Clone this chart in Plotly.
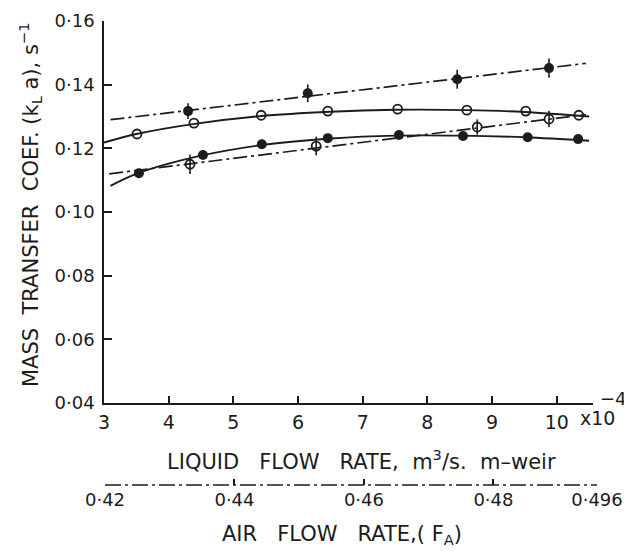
import plotly.graph_objects as go

# ---- data ----
# Series A: filled circles with error bars, dash-dot fit
liq_A = [4.30, 6.15, 8.46, 9.88]
kla_A = [0.1317, 0.1373, 0.1417, 0.1452]
err_A = [0.0025, 0.0028, 0.0030, 0.0030]
fit_A_x = [3.10, 10.45]
fit_A_y = [0.1290, 0.1467]

# Series B: open circles, solid curve
liq_B = [3.51, 4.39, 5.43, 6.46, 7.54, 8.61, 9.52, 10.34]
kla_B = [0.1245, 0.1279, 0.1304, 0.1317, 0.1323, 0.1320, 0.1317, 0.1304]
fit_B_x = [3.0, 3.5, 4.4, 5.4, 6.5, 7.5, 8.6, 9.5, 10.5]
fit_B_y = [0.1218, 0.1245, 0.1277, 0.1301, 0.1315, 0.1321, 0.1320, 0.1314, 0.1300]

# Series C: filled circles, solid curve
liq_C = [3.54, 4.53, 5.44, 6.46, 7.56, 8.55, 9.55, 10.33]
kla_C = [0.1122, 0.1179, 0.1213, 0.1232, 0.1242, 0.1239, 0.1235, 0.1229]
fit_C_x = [3.1, 3.5, 4.5, 5.5, 6.5, 7.5, 8.5, 9.5, 10.5]
fit_C_y = [0.1082, 0.1120, 0.1177, 0.1212, 0.1231, 0.1240, 0.1240, 0.1235, 0.1224]

# Series D: open circles with error bars, dash-dot fit
liq_D = [4.33, 6.28, 8.77, 9.88]
kla_D = [0.1150, 0.1207, 0.1267, 0.1292]
err_D = [0.0031, 0.0029, 0.0024, 0.0026]
fit_D_x = [3.08, 10.45]
fit_D_y = [0.1120, 0.1306]

# Axes ticks
x_ticks = [3, 4, 5, 6, 7, 8, 9, 10]
x_ticktext = ["3", "4", "5", "6", "7", "8", "9", "10"]
y_ticks = [0.04, 0.06, 0.08, 0.10, 0.12, 0.14, 0.16]
y_ticktext = ["0·04", "0·06", "0·08", "0·10", "0·12", "0·14", "0·16"]
air_ticks = [0.42, 0.44, 0.46, 0.48, 0.496]
air_ticktext = ["0·42", "0·44", "0·46", "0·48", "0·496"]

INK = "#1c1c1c"
FONT = "DejaVu Sans"
DASHDOT = "14px,4px,3px,4px"

fig = go.Figure()

# fit lines
fig.add_trace(go.Scatter(x=fit_A_x, y=fit_A_y, mode="lines",
                         line=dict(color=INK, width=1.7, dash=DASHDOT), hoverinfo="skip"))
fig.add_trace(go.Scatter(x=fit_B_x, y=fit_B_y, mode="lines",
                         line=dict(color=INK, width=1.9, shape="spline"), hoverinfo="skip"))
fig.add_trace(go.Scatter(x=fit_C_x, y=fit_C_y, mode="lines",
                         line=dict(color=INK, width=1.9, shape="spline"), hoverinfo="skip"))
fig.add_trace(go.Scatter(x=fit_D_x, y=fit_D_y, mode="lines",
                         line=dict(color=INK, width=1.7, dash=DASHDOT), hoverinfo="skip"))

# markers
fig.add_trace(go.Scatter(x=liq_A, y=kla_A, mode="markers",
                         marker=dict(symbol="circle", size=10, color=INK),
                         error_y=dict(type="data", array=err_A, color=INK, thickness=1.6, width=0)))
fig.add_trace(go.Scatter(x=liq_B, y=kla_B, mode="markers",
                         marker=dict(symbol="circle-open", size=9, color=INK, line=dict(width=1.8))))
fig.add_trace(go.Scatter(x=liq_C, y=kla_C, mode="markers",
                         marker=dict(symbol="circle", size=10, color=INK)))
fig.add_trace(go.Scatter(x=liq_D, y=kla_D, mode="markers",
                         marker=dict(symbol="circle-open", size=9, color=INK, line=dict(width=1.8)),
                         error_y=dict(type="data", array=err_D, color=INK, thickness=1.6, width=0)))

# invisible trace to activate the secondary (air flow) axis
fig.add_trace(go.Scatter(x=[air_ticks[0], air_ticks[-1]], y=[None, None], xaxis="x2", yaxis="y",
                         mode="lines", hoverinfo="skip"))

# The page body adds an 8px offset; the figure is laid out so that its
# contents land at the reference's screen positions.
OFF = 8
W, H = 632 - OFF, 551 - OFF
ML, MT, MB = 104 - OFF, 21 - OFF, 0
MR = W - (597 - OFF)
PW, PH = W - ML - MR, H - MT - MB

def px(xs):  # screen x -> paper
    return (xs - OFF - ML) / PW

def py(ys):  # screen y -> paper
    return (H - MB - (ys - OFF)) / PH

AIR_POS = py(485)

fig.update_layout(
    width=W, height=H,
    margin=dict(l=ML, r=MR, t=MT, b=MB, autoexpand=False),
    paper_bgcolor="white", plot_bgcolor="rgba(0,0,0,0)",
    showlegend=False,
    font=dict(family=FONT, size=18, color=INK),
    xaxis=dict(domain=[0, px(593)], range=[3, 10.56], tickvals=x_ticks, ticktext=x_ticktext,
               ticks="inside", ticklen=7, tickwidth=1.5, tickcolor=INK, automargin=False,
               showline=True, linecolor=INK, linewidth=1.6, showgrid=False, zeroline=False,
               anchor="y", tickfont=dict(size=19), ticklabelstandoff=1),
    yaxis=dict(domain=[py(403), 1], range=[0.04, 0.16], tickvals=y_ticks, ticktext=y_ticktext,
               ticks="inside", ticklen=8, tickwidth=1.5, tickcolor=INK, automargin=False,
               showline=True, linecolor=INK, linewidth=1.6, showgrid=False, zeroline=False,
               anchor="x", tickfont=dict(size=18), ticklabelstandoff=4),
    xaxis2=dict(domain=[px(105), 1], range=[air_ticks[0], air_ticks[-1]],
                tickvals=air_ticks, ticktext=air_ticktext, automargin=False,
                anchor="free", position=AIR_POS, side="bottom",
                ticks="inside", ticklen=6, tickwidth=1.5, tickcolor=INK,
                showline=False, showgrid=False, zeroline=False, tickfont=dict(size=18),
                ticklabelstandoff=2),
)

# dash-dot line of the air-flow axis
fig.add_shape(type="line", xref="x2", yref="paper",
              x0=air_ticks[0], x1=air_ticks[-1], y0=AIR_POS, y1=AIR_POS,
              line=dict(color=INK, width=1.5, dash="16px,4px,3px,4px"))

ann = [
    dict(text="MASS  TRANSFER  COEF. (k<sub>L</sub> a), s<sup>−1</sup>", x=px(30), y=py(205),
         textangle=-90, font=dict(size=21)),
    dict(text="LIQUID   FLOW   RATE,  m<sup>3</sup>/s.  m–weir", x=px(361), y=py(460),
         font=dict(size=21)),
    dict(text="AIR   FLOW   RATE,( F<sub>A</sub>)", x=px(342), y=py(535), font=dict(size=21)),
    dict(text="x10", x=px(578), y=py(418), xanchor="left", font=dict(size=19)),
    dict(text="−4", x=px(613), y=py(398), font=dict(size=18)),
]
for a in ann:
    a.setdefault("xanchor", "center")
    fig.add_annotation(xref="paper", yref="paper", showarrow=False, yanchor="middle", **a)

fig.write_html("out.html")
